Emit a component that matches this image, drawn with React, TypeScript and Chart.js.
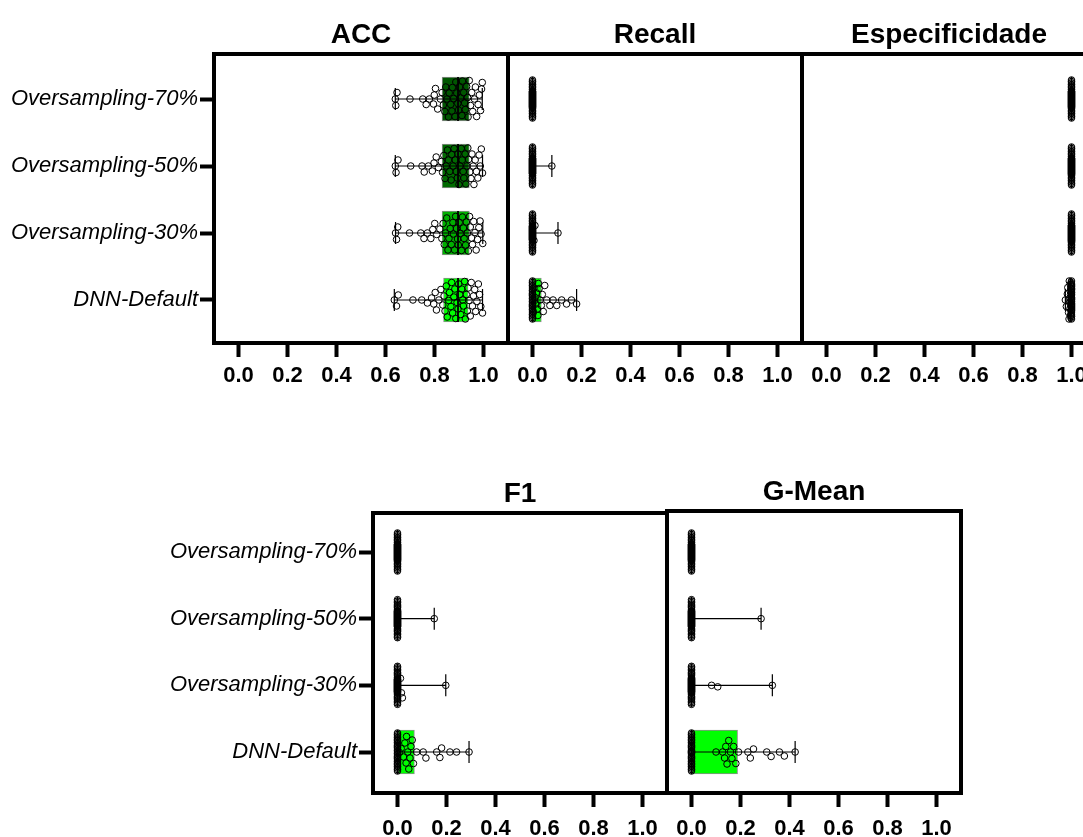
import React, { useEffect, useRef } from "react";
import { Chart, registerables } from "chart.js";

Chart.register(...registerables);

const FONT = "'Liberation Sans', Arial, Helvetica, sans-serif";

// ---------------- data ----------------
const categories = ["Oversampling-70%", "Oversampling-50%", "Oversampling-30%", "DNN-Default"];
const xTickValues = [0, 0.2, 0.4, 0.6, 0.8, 1.0];
const xTickLabels = ["0.0", "0.2", "0.4", "0.6", "0.8", "1.0"];
const boxColors = ["#005600", "#006a00", "#00b000", "#00ff00"];

// box stats per category: [min, q1, median, q3, max]
const accBoxes = [
  [0.640, 0.831, 0.896, 0.942, 0.995],
  [0.640, 0.831, 0.896, 0.942, 0.996],
  [0.641, 0.831, 0.896, 0.942, 0.997],
  [0.636, 0.837, 0.896, 0.937, 0.996],
];
const accPoints = [
  [0.640, 0.642, 0.647, 0.700, 0.752, 0.766, 0.779, 0.796, 0.799, 0.804, 0.813, 0.824, 0.831, 0.836, 0.842, 0.846, 0.851, 0.857, 0.860, 0.866, 0.871, 0.873, 0.878, 0.884, 0.887, 0.891, 0.895, 0.898, 0.902, 0.906, 0.912, 0.914, 0.919, 0.923, 0.926, 0.931, 0.935, 0.937, 0.942, 0.947, 0.952, 0.956, 0.963, 0.967, 0.972, 0.978, 0.983, 0.988, 0.992, 0.995],
  [0.640, 0.643, 0.651, 0.703, 0.749, 0.758, 0.775, 0.791, 0.798, 0.807, 0.816, 0.828, 0.833, 0.838, 0.843, 0.848, 0.853, 0.857, 0.862, 0.868, 0.870, 0.876, 0.880, 0.885, 0.889, 0.893, 0.896, 0.900, 0.904, 0.909, 0.913, 0.917, 0.920, 0.925, 0.928, 0.932, 0.936, 0.939, 0.944, 0.949, 0.953, 0.958, 0.961, 0.966, 0.971, 0.977, 0.982, 0.987, 0.991, 0.996],
  [0.641, 0.645, 0.650, 0.698, 0.744, 0.757, 0.771, 0.785, 0.793, 0.801, 0.809, 0.822, 0.830, 0.835, 0.840, 0.845, 0.850, 0.855, 0.859, 0.864, 0.869, 0.875, 0.877, 0.882, 0.886, 0.890, 0.894, 0.897, 0.901, 0.905, 0.910, 0.914, 0.918, 0.921, 0.927, 0.930, 0.934, 0.938, 0.943, 0.946, 0.951, 0.955, 0.960, 0.965, 0.970, 0.976, 0.981, 0.986, 0.990, 0.997],
  [0.636, 0.645, 0.652, 0.712, 0.748, 0.771, 0.788, 0.797, 0.803, 0.808, 0.818, 0.826, 0.834, 0.839, 0.843, 0.848, 0.852, 0.858, 0.861, 0.867, 0.870, 0.874, 0.879, 0.883, 0.887, 0.892, 0.896, 0.899, 0.903, 0.907, 0.911, 0.915, 0.918, 0.923, 0.926, 0.930, 0.934, 0.937, 0.941, 0.946, 0.950, 0.955, 0.959, 0.964, 0.968, 0.973, 0.979, 0.984, 0.989, 0.996],
];

const recallBoxes = [
  [0, 0, 0, 0, 0],
  [0, 0, 0, 0, 0.079],
  [0, 0, 0, 0, 0.104],
  [0, 0, 0, 0.036, 0.180],
];
const recallPoints = [
  [0, 0, 0, 0, 0, 0, 0, 0, 0, 0,
   0, 0, 0, 0, 0, 0, 0, 0, 0, 0,
   0, 0, 0, 0, 0, 0, 0, 0, 0, 0,
   0, 0, 0, 0, 0, 0, 0, 0, 0, 0,
   0, 0, 0, 0, 0, 0, 0, 0, 0, 0],
  [0, 0, 0, 0, 0, 0, 0, 0, 0, 0,
   0, 0, 0, 0, 0, 0, 0, 0, 0, 0,
   0, 0, 0, 0, 0, 0, 0, 0, 0, 0,
   0, 0, 0, 0, 0, 0, 0, 0, 0, 0,
   0, 0, 0, 0, 0, 0, 0, 0, 0, 0.079],
  [0, 0, 0, 0, 0, 0, 0, 0, 0, 0,
   0, 0, 0, 0, 0, 0, 0, 0, 0, 0,
   0, 0, 0, 0, 0, 0, 0, 0, 0, 0,
   0, 0, 0, 0, 0, 0, 0, 0, 0, 0,
   0, 0, 0, 0, 0, 0, 0, 0.006, 0.010, 0.104],
  [0, 0, 0, 0, 0, 0, 0, 0, 0, 0,
   0, 0, 0, 0, 0, 0, 0, 0, 0, 0,
   0, 0, 0, 0, 0, 0, 0, 0.004, 0.006, 0.008,
   0.011, 0.014, 0.017, 0.020, 0.022, 0.024, 0.027, 0.031, 0.036, 0.040,
   0.044, 0.050, 0.058, 0.071, 0.084, 0.099, 0.119, 0.139, 0.159, 0.180],
];

const specBoxes = [
  [1, 1, 1, 1, 1],
  [1, 1, 1, 1, 1],
  [1, 1, 1, 1, 1],
  [0.975, 0.991, 0.997, 1.0, 1.0],
];
const specPoints = [
  [1, 1, 1, 1, 1, 1, 1, 1, 1, 1,
   1, 1, 1, 1, 1, 1, 1, 1, 1, 1,
   1, 1, 1, 1, 1, 1, 1, 1, 1, 1,
   1, 1, 1, 1, 1, 1, 1, 1, 1, 1,
   1, 1, 1, 1, 1, 1, 1, 1, 1, 1],
  [1, 1, 1, 1, 1, 1, 1, 1, 1, 1,
   1, 1, 1, 1, 1, 1, 1, 1, 1, 1,
   1, 1, 1, 1, 1, 1, 1, 1, 1, 1,
   1, 1, 1, 1, 1, 1, 1, 1, 1, 1,
   1, 1, 1, 1, 1, 1, 1, 1, 1, 1],
  [1, 1, 1, 1, 1, 1, 1, 1, 1, 1,
   1, 1, 1, 1, 1, 1, 1, 1, 1, 1,
   1, 1, 1, 1, 1, 1, 1, 1, 1, 1,
   1, 1, 1, 1, 1, 1, 1, 1, 1, 1,
   1, 1, 1, 1, 1, 1, 1, 1, 1, 1],
  [0.975, 0.979, 0.983, 0.985, 0.988, 0.990, 0.991, 0.992, 0.993, 0.994,
   0.995, 0.995, 0.996, 0.996, 0.997, 0.997, 0.998, 0.998, 0.998, 0.999,
   0.999, 0.999, 1, 1, 1, 1, 1, 1, 1, 1,
   1, 1, 1, 1, 1, 1, 1, 1, 1, 1,
   1, 1, 1, 1, 1, 1, 1, 1, 1, 1],
];

const f1Boxes = [
  [0, 0, 0, 0, 0],
  [0, 0, 0, 0, 0.150],
  [0, 0, 0, 0, 0.197],
  [0, 0, 0, 0.069, 0.292],
];
const f1Points = [
  [0, 0, 0, 0, 0, 0, 0, 0, 0, 0,
   0, 0, 0, 0, 0, 0, 0, 0, 0, 0,
   0, 0, 0, 0, 0, 0, 0, 0, 0, 0,
   0, 0, 0, 0, 0, 0, 0, 0, 0, 0,
   0, 0, 0, 0, 0, 0, 0, 0, 0, 0],
  [0, 0, 0, 0, 0, 0, 0, 0, 0, 0,
   0, 0, 0, 0, 0, 0, 0, 0, 0, 0,
   0, 0, 0, 0, 0, 0, 0, 0, 0, 0,
   0, 0, 0, 0, 0, 0, 0, 0, 0, 0,
   0, 0, 0, 0, 0, 0, 0, 0, 0, 0.150],
  [0, 0, 0, 0, 0, 0, 0, 0, 0, 0,
   0, 0, 0, 0, 0, 0, 0, 0, 0, 0,
   0, 0, 0, 0, 0, 0, 0, 0, 0, 0,
   0, 0, 0, 0, 0, 0, 0, 0, 0, 0,
   0, 0, 0, 0, 0, 0, 0.012, 0.016, 0.020, 0.197],
  [0, 0, 0, 0, 0, 0, 0, 0, 0, 0,
   0, 0, 0, 0, 0, 0, 0, 0, 0, 0,
   0, 0, 0, 0, 0, 0, 0, 0, 0, 0.008,
   0.015, 0.024, 0.030, 0.035, 0.037, 0.042, 0.046, 0.051, 0.055, 0.060,
   0.065, 0.078, 0.105, 0.116, 0.160, 0.173, 0.180, 0.214, 0.241, 0.292],
];

const gmeanBoxes = [
  [0, 0, 0, 0, 0],
  [0, 0, 0, 0, 0.284],
  [0, 0, 0, 0, 0.330],
  [0, 0, 0, 0.188, 0.423],
];
const gmeanPoints = [
  [0, 0, 0, 0, 0, 0, 0, 0, 0, 0,
   0, 0, 0, 0, 0, 0, 0, 0, 0, 0,
   0, 0, 0, 0, 0, 0, 0, 0, 0, 0,
   0, 0, 0, 0, 0, 0, 0, 0, 0, 0,
   0, 0, 0, 0, 0, 0, 0, 0, 0, 0],
  [0, 0, 0, 0, 0, 0, 0, 0, 0, 0,
   0, 0, 0, 0, 0, 0, 0, 0, 0, 0,
   0, 0, 0, 0, 0, 0, 0, 0, 0, 0,
   0, 0, 0, 0, 0, 0, 0, 0, 0, 0,
   0, 0, 0, 0, 0, 0, 0, 0, 0, 0.284],
  [0, 0, 0, 0, 0, 0, 0, 0, 0, 0,
   0, 0, 0, 0, 0, 0, 0, 0, 0, 0,
   0, 0, 0, 0, 0, 0, 0, 0, 0, 0,
   0, 0, 0, 0, 0, 0, 0, 0, 0, 0,
   0, 0, 0, 0, 0, 0, 0, 0.082, 0.107, 0.330],
  [0, 0, 0, 0, 0, 0, 0, 0, 0, 0,
   0, 0, 0, 0, 0, 0, 0, 0, 0, 0,
   0, 0, 0, 0, 0, 0, 0, 0, 0, 0,
   0, 0.100, 0.127, 0.135, 0.140, 0.145, 0.152, 0.159, 0.165, 0.172,
   0.181, 0.192, 0.230, 0.240, 0.253, 0.307, 0.325, 0.359, 0.379, 0.423],
];

// ---------------- layout (positions / sizes) ----------------
type Geom = {
  left: number; top: number; width: number; height: number;
  pad: { left: number; right: number; top: number; bottom: number };
  yWidth: number; showY: boolean; yMin: number; yMax: number; xLabelPad: number;
};
type PanelSpec = { title: string; boxes: number[][]; points: number[][]; geom: Geom };

const TOP_Y = { yMin: -0.672, yMax: 3.642, xLabelPad: 6 };
const BOT_Y = { yMin: -0.585, yMax: 3.615, xLabelPad: 9 };

const panels: PanelSpec[] = [
  { title: "ACC", boxes: accBoxes, points: accPoints,
    geom: { left: 0, top: 0, width: 514, height: 387, pad: { left: 0, right: 6, top: 54, bottom: 0 }, yWidth: 214, showY: true, ...TOP_Y } },
  { title: "Recall", boxes: recallBoxes, points: recallPoints,
    geom: { left: 502, top: 0, width: 306, height: 387, pad: { left: 6, right: 6, top: 54, bottom: 0 }, yWidth: 0, showY: false, ...TOP_Y } },
  { title: "Especificidade", boxes: specBoxes, points: specPoints,
    geom: { left: 796, top: 0, width: 306, height: 387, pad: { left: 6, right: 6, top: 54, bottom: 0 }, yWidth: 0, showY: false, ...TOP_Y } },
  { title: "F1", boxes: f1Boxes, points: f1Points,
    geom: { left: 0, top: 440, width: 673, height: 397, pad: { left: 0, right: 6, top: 73, bottom: 0 }, yWidth: 373, showY: true, ...BOT_Y } },
  { title: "G-Mean", boxes: gmeanBoxes, points: gmeanPoints,
    geom: { left: 661, top: 440, width: 306, height: 397, pad: { left: 6, right: 6, top: 71, bottom: 0 }, yWidth: 0, showY: false, ...BOT_Y, yMin: -0.615 } },
];

// beeswarm: returns pixel offsets for pixel x positions
function swarm(xs: number[], W: number, D: number): number[] {
  const order = xs.map((_, i) => i).sort((a, b) => xs[a] - xs[b]);
  const placed: { x: number; y: number }[] = [];
  const out: number[] = xs.map(() => 0);
  const cands: number[] = [0];
  for (let k = 0.5; k <= W + 1e-9; k += 0.5) cands.push(k, -k);
  for (const i of order) {
    const x = xs[i];
    const near = placed.filter((p) => Math.abs(p.x - x) < D);
    let best = 0;
    let bestScore = -1;
    for (const c of cands) {
      let m = Infinity;
      for (const p of near) {
        const d = Math.hypot(p.x - x, p.y - c);
        if (d < m) m = d;
      }
      if (m >= D) { best = c; break; }
      if (m > bestScore + 1e-9) { bestScore = m; best = c; }
    }
    placed.push({ x, y: best });
    out[i] = best;
  }
  return out;
}

const framePlugin = {
  id: "frame",
  afterDraw(chart: any, _args: any, opts: any) {
    const { ctx, chartArea: a } = chart;
    ctx.save();
    ctx.lineWidth = 4;
    ctx.strokeStyle = "#000";
    ctx.lineJoin = "miter";
    ctx.strokeRect(a.left, a.top, a.right - a.left, a.bottom - a.top);
    ctx.fillStyle = "#000";
    ctx.font = `bold 28px ${FONT}`;
    ctx.textAlign = "center";
    ctx.textBaseline = "alphabetic";
    ctx.fillText(opts.title || "", (a.left + a.right) / 2, a.top - 11);
    ctx.restore();
  },
};

function MetricPanel({ spec }: { spec: PanelSpec }) {
  const ref = useRef<HTMLCanvasElement | null>(null);
  const g = spec.geom;
  useEffect(() => {
    const canvas = ref.current;
    if (!canvas) return;
    const tickGrid = {
      display: true,
      offset: false,
      drawOnChartArea: false,
      drawTicks: true,
      tickLength: 14,
      tickWidth: 4,
      tickColor: "#000",
    };
    const chart = new Chart(canvas, {
      type: "scatter",
      data: {
        datasets: [
          {
            type: "bar",
            indexAxis: "y",
            data: spec.boxes.map((b, i) => ({ x: [b[1], b[3]], y: i })),
            backgroundColor: boxColors,
            borderColor: "rgba(0,0,0,0.45)",
            borderWidth: 1,
            borderSkipped: false,
            barThickness: 44,
            order: 4,
          } as any,
          { type: "line", data: [], borderColor: "#000", borderWidth: 1.2, pointRadius: 0, fill: false, spanGaps: false, order: 3 } as any,
          { type: "line", data: [], borderColor: "#000", borderWidth: 1.8, pointRadius: 0, fill: false, spanGaps: false, order: 2 } as any,
          {
            type: "scatter",
            data: [],
            pointRadius: 3.3,
            pointBorderWidth: 1,
            borderColor: "#000",
            pointBorderColor: "#000",
            backgroundColor: "rgba(0,0,0,0)",
            pointBackgroundColor: "rgba(0,0,0,0)",
            order: 1,
          } as any,
        ],
      },
      options: {
        responsive: false,
        animation: false,
        devicePixelRatio: 1,
        events: [],
        layout: { padding: g.pad },
        plugins: {
          legend: { display: false },
          tooltip: { enabled: false },
          title: { display: false },
          frame: { title: spec.title },
        } as any,
        scales: {
          x: {
            type: "linear",
            offset: false,
            min: -0.1,
            max: 1.1,
            afterBuildTicks: (s: any) => { s.ticks = xTickValues.map((v) => ({ value: v })); },
            afterFit: (s: any) => { s.height = 44; },
            ticks: {
              callback: (_v: any, i: number) => xTickLabels[i],
              font: { family: FONT, size: 22, weight: "bold" },
              color: "#000",
              padding: g.xLabelPad,
              maxRotation: 0,
              autoSkip: false,
            },
            grid: tickGrid,
            border: { display: false },
          },
          y: {
            type: "linear",
            offset: false,
            min: g.yMin,
            max: g.yMax,
            reverse: true,
            display: g.showY,
            afterBuildTicks: (s: any) => { s.ticks = categories.map((_, i) => ({ value: i })); },
            afterFit: (s: any) => { if (g.showY) s.width = g.yWidth; },
            ticks: {
              callback: (_v: any, i: number) => categories[i],
              font: { family: FONT, size: 22, style: "italic" },
              color: "#000",
              padding: 2,
              autoSkip: false,
            },
            grid: tickGrid,
            border: { display: false },
          },
        },
      } as any,
      plugins: [framePlugin],
    });

    const xs = chart.scales.x;
    const ys = chart.scales.y;
    const unit = Math.abs(ys.getPixelForValue(1) - ys.getPixelForValue(0));
    const cap = 11 / unit;
    const half = 22 / unit;
    const whisk: any[] = [];
    const med: any[] = [];
    const pts: any[] = [];
    spec.boxes.forEach((b, i) => {
      whisk.push(
        { x: b[0], y: i }, { x: b[4], y: i }, { x: null, y: null },
        { x: b[0], y: i - cap }, { x: b[0], y: i + cap }, { x: null, y: null },
        { x: b[4], y: i - cap }, { x: b[4], y: i + cap }, { x: null, y: null },
      );
      med.push({ x: b[2], y: i - half }, { x: b[2], y: i + half }, { x: null, y: null });
    });
    spec.points.forEach((vals, i) => {
      const px = vals.map((v) => xs.getPixelForValue(v));
      const offs = swarm(px, 19, 6.3);
      vals.forEach((v, k) => pts.push({ x: v, y: i + offs[k] / unit }));
    });
    chart.data.datasets[1].data = whisk;
    chart.data.datasets[2].data = med;
    chart.data.datasets[3].data = pts;
    chart.update("none");
    return () => chart.destroy();
  }, [spec]);

  return (
    <canvas
      ref={ref}
      width={g.width}
      height={g.height}
      style={{ position: "absolute", left: g.left, top: g.top, width: g.width, height: g.height }}
    />
  );
}

export default function App() {
  return (
    <div style={{ position: "absolute", left: 0, top: 0, width: 1083, height: 837, overflow: "hidden", background: "#fff" }}>
      {panels.map((p) => (
        <MetricPanel key={p.title} spec={p} />
      ))}
    </div>
  );
}
